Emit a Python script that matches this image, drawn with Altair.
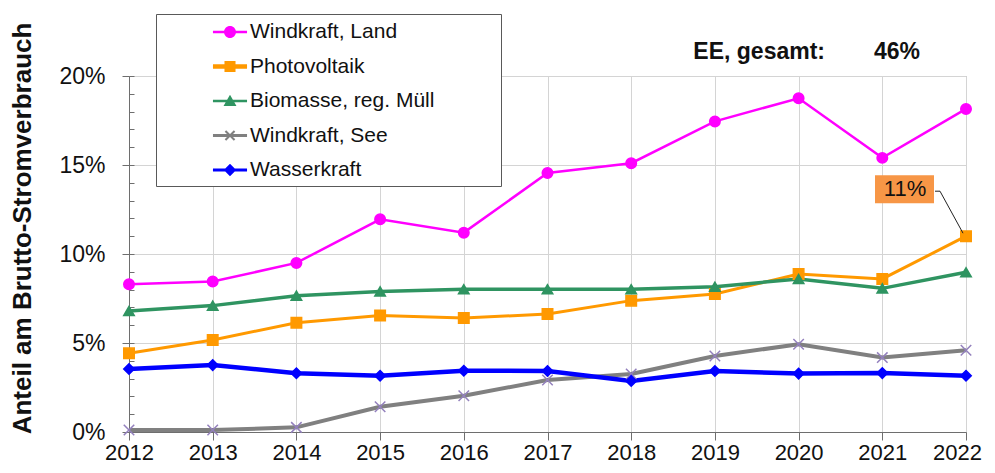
import altair as alt
import pandas as pd

# ---------------- data ----------------
years = [2012, 2013, 2014, 2015, 2016, 2017, 2018, 2019, 2020, 2021, 2022]
series_names = ["Windkraft, Land", "Photovoltaik", "Biomasse, reg. Müll",
                "Windkraft, See", "Wasserkraft"]
wind_land = [8.30, 8.45, 9.50, 11.95, 11.20, 14.55, 15.10, 17.45, 18.75, 15.40, 18.15]
photovoltaik = [4.42, 5.17, 6.14, 6.55, 6.40, 6.63, 7.38, 7.75, 8.88, 8.60, 11.00]
biomasse = [6.80, 7.10, 7.66, 7.90, 8.02, 8.02, 8.02, 8.16, 8.60, 8.07, 8.97]
wind_see = [0.11, 0.11, 0.26, 1.42, 2.04, 2.92, 3.26, 4.27, 4.93, 4.18, 4.59]
wasser = [3.54, 3.76, 3.30, 3.16, 3.44, 3.43, 2.87, 3.43, 3.28, 3.31, 3.16]
y_ticks = [0, 5, 10, 15, 20]
y_minor_ticks = list(range(0, 21))
pv_label = "11%"
total_label = "EE, gesamt:"
total_value = "46%"
y_title = "Anteil am Brutto-Stromverbrauch"

# ---------------- styles ----------------
FONT = "Liberation Sans"
line_colors = ["#FF00FF", "#FF9900", "#2F9461", "#808080", "#0000FF"]
marker_colors = ["#FF00FF", "#FF9900", "#2F9461", "#9380BD", "#0000FF"]
line_widths = [2.5, 4.5, 2.5, 3.0, 3.0]
X_PATH = "M-1,-1L1,1M-1,1L1,-1"
marker_shapes = ["circle", "square", "triangle-up", X_PATH, "diamond"]


def seg(t):
    return f"M-1.42,{-t}H1.42V{t}H-1.42Z"


# invisible far-right point that widens the legend box (bounds only)
PAD_R = "M22,0L22,0.001L22.001,0Z"
circ = "M-0.5,0A0.5 0.5 0 1 1 0.5,0A0.5 0.5 0 1 1 -0.5,0Z"
sq = "M-0.46,-0.46H0.46V0.46H-0.46Z"
tri = "M0,-0.52L0.54,0.42L-0.54,0.42Z"
dia = "M0,-0.52L0.52,0L0,0.52L-0.52,0Z"
r, d = 0.38, 0.06
xcross = (f"M{-r+d},{-r-d}L{r+d},{r-d}L{r-d},{r+d}L{-r-d},{-r+d}Z"
          f"M{-r-d},{r-d}L{r-d},{-r-d}L{r+d},{-r+d}L{-r+d},{r+d}Z")
legend_paths = [seg(0.11) + circ + PAD_R, seg(0.18) + sq + PAD_R,
                seg(0.11) + tri + PAD_R, seg(0.12) + xcross + PAD_R,
                seg(0.12) + dia + PAD_R]

BOX_PATH = "M-91,-61H-32V-33H-91Z"
LEADER_PATH = "M-31,-45L-26,-45L-3,-3"

# ---------------- tables ----------------
vals = [wind_land, photovoltaik, biomasse, wind_see, wasser]
rows = []
for name, v in zip(series_names, vals):
    for yr, val in zip(years, v):
        rows.append({"series": name, "year": yr, "value": val})
df = pd.DataFrame(rows)

annot_df = pd.DataFrame({"year": [years[-1]], "value": [photovoltaik[-1]],
                         "label": [pv_label]})
corner_df = pd.DataFrame({"year": [years[-1]], "value": [y_ticks[-1]],
                          "t1": [total_label], "t2": [total_value]})

# ---------------- encodings ----------------
x_enc = alt.X(
    "year:Q",
    scale=alt.Scale(domain=[years[0], years[-1]], nice=False, zero=False),
    axis=alt.Axis(values=years, format="d", title=None, grid=True,
                  gridColor="#D4D4D4", gridWidth=1, tickSize=8,
                  tickColor="#6E6E6E", domainColor="#6E6E6E",
                  labelFont=FONT, labelFontSize=22, labelColor="#111111",
                  labelPadding=2, labelFlush=False,
                  labelOffset={"condition": {"test": f"datum.value == {years[-1]}",
                                             "value": -9},
                               "value": 0}),
)
y_scale = alt.Scale(domain=[0, 20], nice=False)
y_main = alt.Y(
    "value:Q", scale=y_scale,
    axis=alt.Axis(values=y_ticks, labelExpr="datum.value + '%'", grid=True,
                  gridColor="#D4D4D4", gridWidth=1, tickSize=7,
                  tickColor="#6E6E6E", domainColor="#6E6E6E",
                  labelFont=FONT, labelFontSize=23, labelColor="#111111",
                  labelPadding=17, title=y_title, titleFont=FONT,
                  titleFontSize=26, titleFontWeight="bold",
                  titleColor="#111111", titleX=-94, titleY=152),
)
y_minor = alt.Y(
    "value:Q", scale=y_scale,
    axis=alt.Axis(orient="left", values=y_minor_ticks, labels=False,
                  domain=False, grid=False, tickSize=5, offset=-5,
                  tickColor="#6E6E6E", title=None),
)
y_none = alt.Y("value:Q", scale=y_scale, axis=None)

lines = alt.Chart(df).mark_line().encode(
    x=x_enc, y=y_main,
    color=alt.Color("series:N",
                    scale=alt.Scale(domain=series_names, range=line_colors),
                    legend=None),
    size=alt.Size("series:N",
                  scale=alt.Scale(domain=series_names, range=line_widths),
                  legend=None),
)

points = alt.Chart(df).mark_point(size=110, strokeWidth=1.5, opacity=1).encode(
    x=x_enc, y=y_minor,
    fill=alt.Fill("series:N",
                  scale=alt.Scale(domain=series_names, range=marker_colors),
                  legend=None),
    stroke=alt.Stroke("series:N",
                      scale=alt.Scale(domain=series_names, range=marker_colors),
                      legend=None),
    shape=alt.Shape("series:N",
                    scale=alt.Scale(domain=series_names, range=marker_shapes),
                    legend=None),
)

leg = alt.Legend(
    orient="none", legendX=27, legendY=-62, title=None, padding=6,
    rowPadding=12.5, symbolOffset=56, labelOffset=8,
    labelFont=FONT, labelFontSize=21, labelColor="#111111", labelLimit=600,
    symbolStrokeWidth=0, symbolOpacity=1, symbolSize=576,
    strokeColor="#595959", fillColor="#FFFFFF",
)

legend_layer = alt.Chart(df).mark_point(filled=True, size=576).encode(
    x=x_enc, y=y_none,
    color=alt.Color("series:N",
                    scale=alt.Scale(domain=series_names, range=line_colors),
                    legend=leg),
    shape=alt.Shape("series:N",
                    scale=alt.Scale(domain=series_names, range=legend_paths),
                    legend=leg),
    opacity=alt.value(0),
)

box = alt.Chart(annot_df).mark_point(
    shape=BOX_PATH, size=4, filled=True, color="#F79646", opacity=1,
    strokeWidth=0,
).encode(x=x_enc, y=y_none)

leader = alt.Chart(annot_df).mark_point(
    shape=LEADER_PATH, size=4, filled=False, color="#222222", opacity=1,
    strokeWidth=1,
).encode(x=x_enc, y=y_none)

label = alt.Chart(annot_df).mark_text(
    dx=-61, dy=-47, font=FONT, fontSize=22, color="#111111",
).encode(x=x_enc, y=y_none, text="label:N")

total1 = alt.Chart(corner_df).mark_text(
    align="right", baseline="middle", dx=-141, dy=-24, font=FONT,
    fontSize=23, fontWeight="bold", color="#111111",
).encode(x=x_enc, y=y_none, text="t1:N")

total2 = alt.Chart(corner_df).mark_text(
    align="right", baseline="middle", dx=-46, dy=-24, font=FONT,
    fontSize=23, fontWeight="bold", color="#111111",
).encode(x=x_enc, y=y_none, text="t2:N")

chart = alt.layer(lines, points, legend_layer, box, leader, label,
                  total1, total2).resolve_scale(
    color="independent", shape="independent", fill="independent",
    stroke="independent", size="independent",
).resolve_axis(y="independent").properties(
    width=837, height=356,
    padding={"left": 121, "top": 68, "right": 21, "bottom": 33},
    autosize=alt.AutoSizeParams(type="none"),
    background="white",
).configure_view(stroke="#A6A6A6", strokeWidth=1)

chart.save("out.html", embed_options={"renderer": "svg", "actions": False})
